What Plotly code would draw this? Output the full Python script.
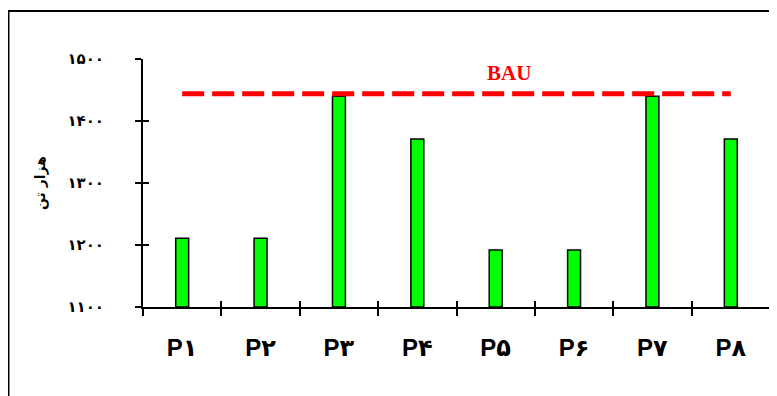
import plotly.graph_objects as go

categories = ["P۱", "P۲", "P۳", "P۴", "P۵", "P۶", "P۷", "P۸"]
values = [1211, 1211, 1440, 1371, 1192, 1192, 1440, 1371]
bau_value = 1444
bau_label = "BAU"
y_ticks = [1100, 1200, 1300, 1400, 1500]
y_tick_labels = ["۱۱۰۰", "۱۲۰۰", "۱۳۰۰", "۱۴۰۰", "۱۵۰۰"]
y_title = "هزار تن"

L, T, PW, PH = 135, 51, 627, 248
n = len(categories)
boundaries = [i - 0.5 for i in range(n + 1)]

fig = go.Figure()
fig.add_trace(go.Bar(
    x=categories, y=[v - 1100 for v in values], base=1100,
    width=0.165,
    marker=dict(color="#00FF00", line=dict(color="black", width=1.5)),
    showlegend=False, hoverinfo="skip",
))
fig.add_trace(go.Scatter(
    x=categories, y=[bau_value] * n,
    mode="lines",
    line=dict(color="#FF0000", width=5, dash="22px,8px"),
    showlegend=False, hoverinfo="skip",
))
fig.add_trace(go.Scatter(x=boundaries, y=[1100] * (n + 1), xaxis="x2", yaxis="y2",
                         mode="markers", marker=dict(opacity=0),
                         showlegend=False, hoverinfo="skip"))

fig.add_annotation(
    x=0.584, xref="paper", y=bau_value, yref="y", yshift=21,
    text="<b>" + bau_label + "</b>", showarrow=False,
    font=dict(family="Liberation Serif, Times New Roman", size=21, color="#FF0000"),
)

fig.update_layout(
    width=769, height=388,
    margin=dict(l=L, r=7, t=T, b=89),
    paper_bgcolor="white", plot_bgcolor="white",
    font=dict(family="Liberation Sans, DejaVu Sans", color="black"),
    xaxis=dict(
        type="category", range=[-0.5, n - 0.5],
        showline=True, linecolor="black", linewidth=2,
        ticks="outside", ticklen=7, tickwidth=1.5, tickcolor="black",
        tickson="boundaries",
        tickfont=dict(size=24, family="Liberation Sans, DejaVu Sans", weight="bold"),
        ticklabelstandoff=18,
        showgrid=False, zeroline=False,
    ),
    yaxis=dict(
        range=[1100, 1500],
        tickvals=y_ticks, ticktext=y_tick_labels,
        showline=True, linecolor="black", linewidth=2,
        ticks="outside", ticklen=6, tickwidth=1.5, tickcolor="black",
        tickfont=dict(size=15, family="DejaVu Sans", weight="bold"),
        ticklabelstandoff=28,
        showgrid=False, zeroline=False,
        title=dict(text="<b>" + y_title + "</b>", font=dict(size=14, family="DejaVu Sans"), standoff=18),
    ),
    xaxis2=dict(overlaying="x", type="linear", range=[-0.5, n - 0.5],
                tickmode="array", tickvals=boundaries,
                ticks="inside", ticklen=6, tickwidth=1.5, tickcolor="black",
                showticklabels=False, showgrid=False, anchor="y2",
                side="bottom", showline=False, zeroline=False),
    yaxis2=dict(overlaying="y", range=[1100, 1500], tickvals=y_ticks,
                ticks="inside", ticklen=6, tickwidth=1.5, tickcolor="black",
                showticklabels=False, showgrid=False, zeroline=False, anchor="x2", side="left"),
)

# outer frame (left and top)
fx = (0 - L) / PW
fy = (PH + T - 3) / PH
fig.add_shape(type="line", xref="paper", yref="paper",
              x0=fx, x1=fx, y0=fy, y1=-0.5,
              line=dict(color="black", width=3))
fig.add_shape(type="line", xref="paper", yref="paper",
              x0=fx, x1=(780 - L) / PW, y0=fy, y1=fy,
              line=dict(color="black", width=2))

fig.write_html("out.html")
